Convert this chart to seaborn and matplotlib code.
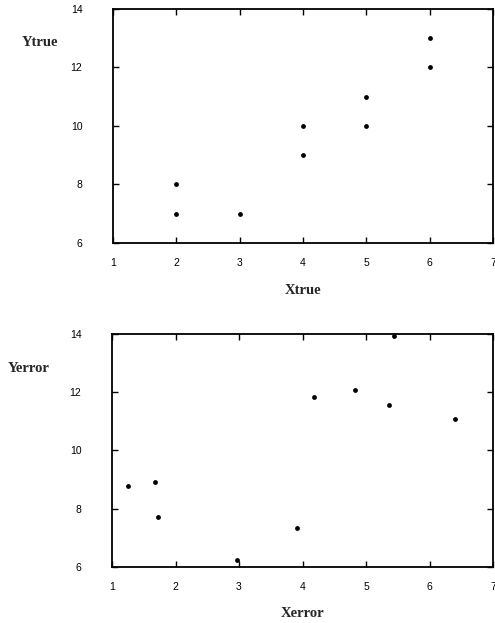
import matplotlib
matplotlib.use("Agg")
import matplotlib.pyplot as plt
import seaborn as sns
import pandas as pd

# data
x_true = [2, 2, 3, 4, 4, 5, 5, 6, 6]
y_true = [7, 8, 7, 9, 10, 10, 11, 12, 13]

x_error = [1.25, 1.68, 1.73, 2.97, 3.91, 4.18, 4.83, 5.36, 5.44, 6.40]
y_error = [8.79, 8.91, 7.70, 6.24, 7.32, 11.84, 12.06, 11.57, 13.94, 11.08]

x_ticks = [1, 2, 3, 4, 5, 6, 7]
y_ticks = [6, 8, 10, 12, 14]

sns.set_theme(style="ticks")
plt.rcParams["font.family"] = ["Liberation Sans", "DejaVu Sans"]
label_font = ["Liberation Serif", "DejaVu Serif"]

fig = plt.figure(figsize=(4.95, 6.23), dpi=100)
ax1 = fig.add_axes([113 / 495, 0.610, 380 / 495, 0.3756])
ax2 = fig.add_axes([112 / 495, 0.090, 381 / 495, 0.374])

top_df = pd.DataFrame({"Xtrue": x_true, "Ytrue": y_true})
bot_df = pd.DataFrame({"Xerror": x_error, "Yerror": y_error})

for ax, df, xc, yc in [(ax1, top_df, "Xtrue", "Ytrue"),
                       (ax2, bot_df, "Xerror", "Yerror")]:
    sns.scatterplot(data=df, x=xc, y=yc, ax=ax, color="black", s=12,
                    edgecolor="black", linewidth=0, clip_on=False)
    ax.set_xlim(1, 7)
    ax.set_ylim(6, 14)
    ax.set_xticks(x_ticks)
    ax.set_yticks(y_ticks)
    ax.tick_params(direction="in", length=4, width=1, top=True, right=True,
                   labelsize=7.5, colors="black")
    ax.tick_params(axis="x", pad=11)
    ax.tick_params(axis="y", pad=22)
    for s in ax.spines.values():
        s.set_linewidth(1.3)
        s.set_color("black")
    ax.set_xlabel(xc, fontsize=10.5, fontweight="bold", family=label_font,
                  labelpad=11)
    ax.set_ylabel("")

fig.text(22 / 495, 1 - 43 / 623, "Ytrue", fontsize=10.5, fontweight="bold",
         family=label_font, va="center", ha="left")
fig.text(8 / 495, 1 - 368 / 623, "Yerror", fontsize=10.5, fontweight="bold",
         family=label_font, va="center", ha="left")

fig.savefig("out.png", dpi=100)
